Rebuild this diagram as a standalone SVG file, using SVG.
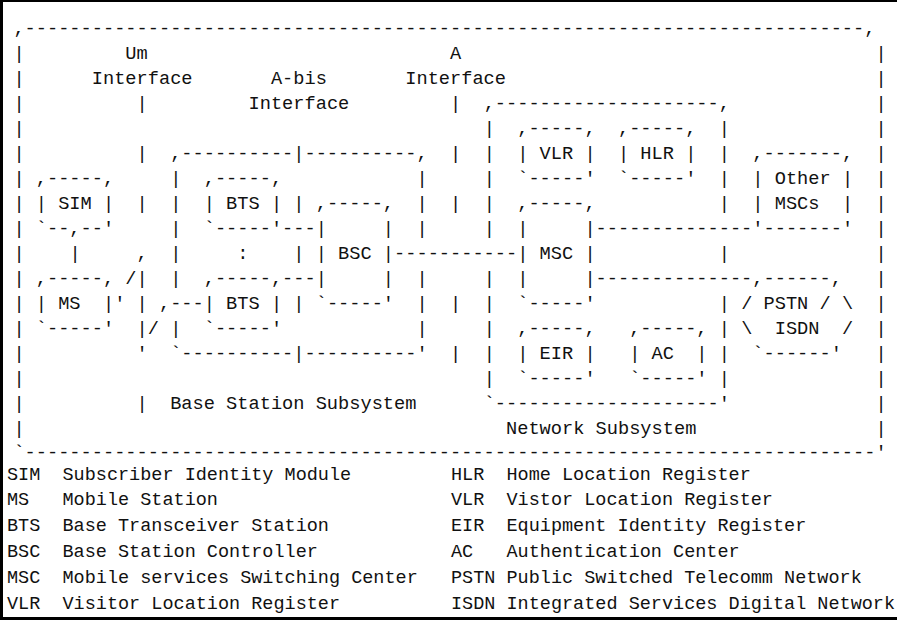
<svg xmlns="http://www.w3.org/2000/svg" width="897" height="620" viewBox="0 0 897 620" xml:space="preserve">
<style>
text { font-family: "Liberation Mono", "DejaVu Sans Mono", monospace; font-size: 18.66px; fill: #111; white-space: pre; }
.lg text { font-size: 18.5px; }
</style>
<rect width="897" height="620" fill="#fff"/>
<g id="image-border" fill="#000">
<rect x="0" y="0" width="897" height="2"/>
<rect x="0" y="0" width="3" height="620"/>
<rect x="0" y="617" width="897" height="3"/>
</g>
<g id="gsm-system">
<text x="13.4" y="33.5">,---------------------------------------------------------------------------,</text>
<text><tspan x="13.4" y="58.5">|</tspan><tspan x="13.4" y="83.5">|</tspan><tspan x="13.4" y="108.5">|</tspan><tspan x="13.4" y="133.5">|</tspan><tspan x="13.4" y="158.5">|</tspan><tspan x="13.4" y="183.5">|</tspan><tspan x="13.4" y="208.5">|</tspan><tspan x="13.4" y="233.5">|</tspan><tspan x="13.4" y="258.5">|</tspan><tspan x="13.4" y="283.5">|</tspan><tspan x="13.4" y="308.5">|</tspan><tspan x="13.4" y="333.5">|</tspan><tspan x="13.4" y="358.5">|</tspan><tspan x="13.4" y="383.5">|</tspan><tspan x="13.4" y="408.5">|</tspan><tspan x="13.4" y="433.5">|</tspan></text>
<text><tspan x="875.49" y="58.5">|</tspan><tspan x="875.49" y="83.5">|</tspan><tspan x="875.49" y="108.5">|</tspan><tspan x="875.49" y="133.5">|</tspan><tspan x="875.49" y="158.5">|</tspan><tspan x="875.49" y="183.5">|</tspan><tspan x="875.49" y="208.5">|</tspan><tspan x="875.49" y="233.5">|</tspan><tspan x="875.49" y="258.5">|</tspan><tspan x="875.49" y="283.5">|</tspan><tspan x="875.49" y="308.5">|</tspan><tspan x="875.49" y="333.5">|</tspan><tspan x="875.49" y="358.5">|</tspan><tspan x="875.49" y="383.5">|</tspan><tspan x="875.49" y="408.5">|</tspan><tspan x="875.49" y="433.5">|</tspan></text>
<text x="13.4" y="457.5">`----------------------------------------------------------------------------'</text>
</g>
<g id="labels">
<text x="125.36" y="58.5">Um</text>
<text x="450.04" y="58.5">A</text>
<text x="91.77" y="83.5">Interface</text>
<text x="270.91" y="83.5">A-bis</text>
<text x="405.26" y="83.5">Interface</text>
<text x="248.52" y="108.5">Interface</text>
<text x="170.14" y="408.5">Base Station Subsystem</text>
<text x="506.02" y="433.5">Network Subsystem</text>
</g>
<g id="interface-lines">
<text><tspan x="136.56" y="108.5">|</tspan><tspan x="136.56" y="158.5">|</tspan><tspan x="136.56" y="208.5">|</tspan><tspan x="136.56" y="258.5">,</tspan><tspan x="136.56" y="283.5">|</tspan><tspan x="136.56" y="308.5">|</tspan><tspan x="136.56" y="333.5">|</tspan><tspan x="136.56" y="358.5">'</tspan><tspan x="136.56" y="408.5">|</tspan></text>
<text><tspan x="293.3" y="208.5">|</tspan><tspan x="293.3" y="258.5">|</tspan><tspan x="293.3" y="308.5">|</tspan></text>
<text><tspan x="450.04" y="108.5">|</tspan><tspan x="450.04" y="158.5">|</tspan><tspan x="450.04" y="208.5">|</tspan><tspan x="450.04" y="308.5">|</tspan><tspan x="450.04" y="358.5">|</tspan></text>
</g>
<g id="bss">
<text x="170.14" y="158.5">,----------|----------,</text>
<text><tspan x="170.14" y="183.5">|</tspan><tspan x="170.14" y="208.5">|</tspan><tspan x="170.14" y="233.5">|</tspan><tspan x="170.14" y="258.5">|</tspan><tspan x="170.14" y="283.5">|</tspan><tspan x="170.14" y="333.5">|</tspan></text>
<text><tspan x="416.46" y="183.5">|</tspan><tspan x="416.46" y="208.5">|</tspan><tspan x="416.46" y="233.5">|</tspan><tspan x="416.46" y="283.5">|</tspan><tspan x="416.46" y="308.5">|</tspan><tspan x="416.46" y="333.5">|</tspan></text>
<text x="170.14" y="358.5">`----------|----------'</text>
<text x="237.32" y="258.5">:</text>
</g>
<g id="nss">
<text x="483.63" y="108.5">,--------------------,</text>
<text><tspan x="483.63" y="133.5">|</tspan><tspan x="483.63" y="158.5">|</tspan><tspan x="483.63" y="183.5">|</tspan><tspan x="483.63" y="208.5">|</tspan><tspan x="483.63" y="233.5">|</tspan><tspan x="483.63" y="283.5">|</tspan><tspan x="483.63" y="308.5">|</tspan><tspan x="483.63" y="333.5">|</tspan><tspan x="483.63" y="358.5">|</tspan><tspan x="483.63" y="383.5">|</tspan></text>
<text><tspan x="718.75" y="133.5">|</tspan><tspan x="718.75" y="158.5">|</tspan><tspan x="718.75" y="183.5">|</tspan><tspan x="718.75" y="208.5">|</tspan><tspan x="718.75" y="258.5">|</tspan><tspan x="718.75" y="308.5">|</tspan><tspan x="718.75" y="333.5">|</tspan><tspan x="718.75" y="358.5">|</tspan><tspan x="718.75" y="383.5">|</tspan></text>
<text x="483.63" y="408.5">`--------------------'</text>
</g>
<g id="sim"><text x="35.79" y="183.5">,-----,</text><text x="35.79" y="208.5">| SIM |</text><text x="35.79" y="233.5">`--,--'</text></g>
<g id="ms"><text x="35.79" y="283.5">,-----,</text><text x="35.79" y="308.5">| MS  |</text><text x="35.79" y="333.5">`-----'</text></g>
<g id="bts1"><text x="203.73" y="183.5">,-----,</text><text x="203.73" y="208.5">| BTS |</text><text x="203.73" y="233.5">`-----'</text></g>
<g id="bts2"><text x="203.73" y="283.5">,-----,</text><text x="203.73" y="308.5">| BTS |</text><text x="203.73" y="333.5">`-----'</text></g>
<g id="bsc"><text x="315.69" y="208.5">,-----,</text><text x="315.69" y="233.5">|     |</text><text x="315.69" y="258.5">| BSC |</text><text x="315.69" y="283.5">|     |</text><text x="315.69" y="308.5">`-----'</text></g>
<g id="msc"><text x="517.22" y="208.5">,-----,</text><text x="517.22" y="233.5">|     |</text><text x="517.22" y="258.5">| MSC |</text><text x="517.22" y="283.5">|     |</text><text x="517.22" y="308.5">`-----'</text></g>
<g id="vlr"><text x="517.22" y="133.5">,-----,</text><text x="517.22" y="158.5">| VLR |</text><text x="517.22" y="183.5">`-----'</text></g>
<g id="hlr"><text x="617.98" y="133.5">,-----,</text><text x="617.98" y="158.5">| HLR |</text><text x="617.98" y="183.5">`-----'</text></g>
<g id="eir"><text x="517.22" y="333.5">,-----,</text><text x="517.22" y="358.5">| EIR |</text><text x="517.22" y="383.5">`-----'</text></g>
<g id="ac"><text x="629.18" y="333.5">,-----,</text><text x="629.18" y="358.5">| AC  |</text><text x="629.18" y="383.5">`-----'</text></g>
<g id="other-mscs"><text x="752.34" y="158.5">,-------,</text><text x="752.34" y="183.5">| Other |</text><text x="752.34" y="208.5">| MSCs  |</text><text x="752.34" y="233.5">'-------'</text></g>
<g id="pstn-isdn"><text x="752.34" y="283.5">,------,</text><text x="741.14" y="308.5">/ PSTN / \</text><text x="741.14" y="333.5">\  ISDN  /</text><text x="752.34" y="358.5">`------'</text></g>
<g id="connectors">
<text x="69.38" y="258.5">|</text>
<text x="114.16" y="308.5">'</text>
<text x="125.36" y="283.5">/</text>
<text x="147.75" y="333.5">/</text>
<text x="158.95" y="308.5">,---</text>
<text x="282.10" y="233.5">---</text>
<text x="282.10" y="283.5">---</text>
<text x="394.06" y="258.5">-----------</text>
<text x="595.59" y="233.5">--------------</text>
<text x="595.59" y="283.5">--------------</text>
</g>
<g id="legend" class="lg">
<text x="7" y="479.5">SIM  Subscriber Identity Module</text>
<text x="7" y="505.3">MS   Mobile Station</text>
<text x="7" y="531.1">BTS  Base Transceiver Station</text>
<text x="7" y="556.9">BSC  Base Station Controller</text>
<text x="7" y="582.7">MSC  Mobile services Switching Center</text>
<text x="7" y="608.5">VLR  Visitor Location Register</text>
<text x="451" y="479.5">HLR  Home Location Register</text>
<text x="451" y="505.3">VLR  Vistor Location Register</text>
<text x="451" y="531.1">EIR  Equipment Identity Register</text>
<text x="451" y="556.9">AC   Authentication Center</text>
<text x="451" y="582.7">PSTN Public Switched Telecomm Network</text>
<text x="451" y="608.5">ISDN Integrated Services Digital Network</text>
</g>
</svg>
